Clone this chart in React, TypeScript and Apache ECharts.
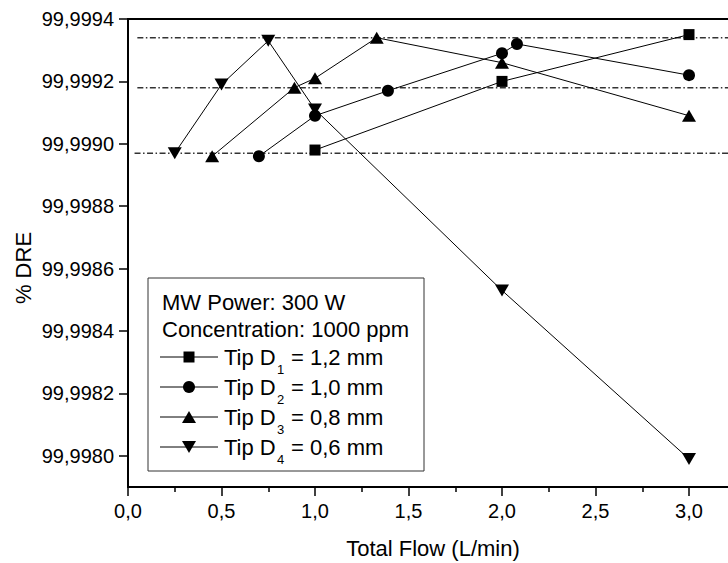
import { useEffect, useRef } from 'react';
import * as echarts from 'echarts';

// ---- data ----
const d1Flow = [1.0, 2.0, 3.0];
const d1Dre = [99.99898, 99.9992, 99.99935];
const d2Flow = [0.7, 1.0, 1.39, 2.0, 2.08, 3.0];
const d2Dre = [99.99896, 99.99909, 99.99917, 99.99929, 99.99932, 99.99922];
const d3Flow = [0.45, 0.89, 1.0, 1.33, 2.0, 3.0];
const d3Dre = [99.99896, 99.99918, 99.99921, 99.99934, 99.99926, 99.99909];
const d4Flow = [0.25, 0.5, 0.75, 1.0, 2.0, 3.0];
const d4Dre = [99.99897, 99.99919, 99.99933, 99.99911, 99.99853, 99.99799];

const refLevels = [99.99934, 99.99918, 99.99897];
const refStart = [0.05, 0.05, 0.035];
const refEnd = 3.5;

const yMajorTicks = [99.998, 99.9982, 99.9984, 99.9986, 99.9988, 99.999, 99.9992, 99.9994];
const yMinorTicks = [99.9979, 99.9981, 99.9983, 99.9985, 99.9987, 99.9989, 99.9991, 99.9993];

const seriesSubs = ['1', '2', '3', '4'];
const seriesSizes = ['1,2', '1,0', '0,8', '0,6'];
const legendHeader = ['MW Power: 300 W', 'Concentration: 1000 ppm'];
const xTitle = 'Total Flow (L/min)';
const yTitle = '% DRE';

const FONT = '"Liberation Sans", Arial, Helvetica, sans-serif';

export default function App() {
  const ref = useRef<HTMLDivElement>(null);

  useEffect(() => {
    if (!ref.current) return;
    const chart = echarts.init(ref.current, undefined, { renderer: 'svg' });

    const gridLeft = 128;
    const gridTop = 19;
    const gridWidth = 654.5;
    const gridHeight = 468;

    const flows = [d1Flow, d2Flow, d3Flow, d4Flow];
    const dres = [d1Dre, d2Dre, d3Dre, d4Dre];
    const symbols = ['rect', 'circle', 'triangle', 'triangle'];
    const symbolSizes: any[] = [11, 12, [14, 12], [14, 12]];
    const rotates = [0, 0, 0, 180];

    const dataSeries = flows.map((fl, i) => ({
      name: 'Tip D' + seriesSubs[i] + ' = ' + seriesSizes[i] + ' mm',
      type: 'line',
      data: fl.map((x, j) => [x, dres[i][j]]),
      symbol: symbols[i],
      symbolSize: symbolSizes[i],
      symbolRotate: rotates[i],
      showSymbol: true,
      itemStyle: { color: '#000' },
      lineStyle: { color: '#000', width: 1 },
      z: 3,
    }));

    const refSeries = refLevels.map((lv, i) => ({
      name: 'ref' + i,
      type: 'line',
      data: [
        [refStart[i], lv],
        [refEnd, lv],
      ],
      symbol: 'none',
      silent: true,
      lineStyle: { color: '#333', width: 1.5, type: [6, 2.5, 1.5, 2.5] },
      z: 1,
    }));

    // legend graphic
    const lx = 160;
    const lineW = 58;
    const mx = lx + lineW / 2;
    const headerY = [302, 329.5];
    const rowY = [357, 387, 417, 447];
    const LF = 22;
    const graphics: any[] = [
      {
        type: 'rect',
        shape: { x: 148, y: 278, width: 276, height: 193 },
        style: { fill: '#fff', stroke: '#333', lineWidth: 1 },
        z: 10,
      },
    ];
    legendHeader.forEach((t, i) => {
      graphics.push({
        type: 'text',
        x: 162,
        y: headerY[i],
        z: 11,
        style: { text: t, fontSize: LF, fontFamily: FONT, fill: '#000', align: 'left', verticalAlign: 'middle' },
      });
    });
    rowY.forEach((cy, i) => {
      graphics.push({
        type: 'line',
        z: 11,
        shape: { x1: lx, y1: cy, x2: lx + lineW, y2: cy },
        style: { stroke: '#000', lineWidth: 1 },
      });
      if (i === 0) {
        graphics.push({ type: 'rect', z: 12, shape: { x: mx - 5.5, y: cy - 5.5, width: 11, height: 11 }, style: { fill: '#000' } });
      } else if (i === 1) {
        graphics.push({ type: 'circle', z: 12, shape: { cx: mx, cy, r: 6 }, style: { fill: '#000' } });
      } else if (i === 2) {
        graphics.push({ type: 'polygon', z: 12, shape: { points: [[mx - 7, cy + 6], [mx + 7, cy + 6], [mx, cy - 6]] }, style: { fill: '#000' } });
      } else {
        graphics.push({ type: 'polygon', z: 12, shape: { points: [[mx - 7, cy - 6], [mx + 7, cy - 6], [mx, cy + 6]] }, style: { fill: '#000' } });
      }
      graphics.push({
        type: 'text', x: 224, y: cy, z: 11,
        style: { text: 'Tip D', fontSize: LF, fontFamily: FONT, fill: '#000', align: 'left', verticalAlign: 'middle' },
      });
      graphics.push({
        type: 'text', x: 277, y: cy + 12.5, z: 11,
        style: { text: seriesSubs[i], fontSize: 13, fontFamily: FONT, fill: '#000', align: 'left', verticalAlign: 'middle' },
      });
      graphics.push({
        type: 'text', x: 291, y: cy, z: 11,
        style: { text: '= ' + seriesSizes[i] + ' mm', fontSize: LF, fontFamily: FONT, fill: '#000', align: 'left', verticalAlign: 'middle' },
      });
    });
    graphics.push({
      type: 'text', x: 23, y: 268, rotation: Math.PI / 2, z: 11,
      style: { text: yTitle, fontSize: 22, fontFamily: FONT, fill: '#000', align: 'center', verticalAlign: 'middle' },
    });
    graphics.push({
      type: 'text', x: 433, y: 548, z: 11,
      style: { text: xTitle, fontSize: 22, fontFamily: FONT, fill: '#000', align: 'center', verticalAlign: 'middle' },
    });

    const yMin = 99.9979;
    const yMax = 99.9994;

    chart.setOption({
      animation: false,
      backgroundColor: '#fff',
      textStyle: { fontFamily: FONT },
      grid: {
        left: gridLeft,
        top: gridTop,
        width: gridWidth,
        height: gridHeight,
        show: true,
        borderColor: '#000',
        borderWidth: 2,
        backgroundColor: 'transparent',
        containLabel: false,
        outerBoundsMode: 'none',
      },
      xAxis: {
        type: 'value',
        min: 0,
        max: 3.5,
        interval: 0.5,
        axisLine: { show: true, onZero: false, lineStyle: { color: '#000', width: 2 } },
        axisTick: { show: true, inside: false, length: 9, lineStyle: { color: '#000', width: 1.5 } },
        minorTick: { show: true, splitNumber: 2, length: 5, lineStyle: { color: '#000', width: 1.5 } },
        splitLine: { show: false },
        axisLabel: {
          show: true,
          margin: 14,
          fontSize: 20,
          fontFamily: FONT,
          color: '#000',
          showMaxLabel: false,
          formatter: (v: number) => v.toFixed(1).replace('.', ','),
        },
      },
      yAxis: [
        {
          type: 'value',
          position: 'left',
          min: yMin,
          max: yMax,
          interval: 0.0001,
          axisLine: { show: true, onZero: false, lineStyle: { color: '#000', width: 2 } },
          axisTick: { show: true, inside: false, length: 9, customValues: yMajorTicks, lineStyle: { color: '#000', width: 1.5 } },
          splitLine: { show: false },
          axisLabel: {
            show: true,
            margin: 14,
            fontSize: 20,
            fontFamily: FONT,
            color: '#000',
            customValues: yMajorTicks,
            formatter: (v: number) => v.toFixed(4).replace('.', ','),
          },
        },
        {
          type: 'value',
          position: 'right',
          offset: -gridWidth,
          min: yMin,
          max: yMax,
          interval: 0.0001,
          axisLine: { show: false },
          axisLabel: { show: false },
          splitLine: { show: false },
          axisTick: { show: true, inside: true, length: 5, customValues: yMinorTicks, lineStyle: { color: '#000', width: 1.5 } },
        },
      ],
      series: [...refSeries, ...dataSeries],
      graphic: graphics,
    });

    return () => {
      chart.dispose();
    };
  }, []);

  return (
    <div
      ref={ref}
      style={{ position: 'absolute', left: 0, top: 0, width: 728, height: 563, overflow: 'hidden' }}
    />
  );
}
